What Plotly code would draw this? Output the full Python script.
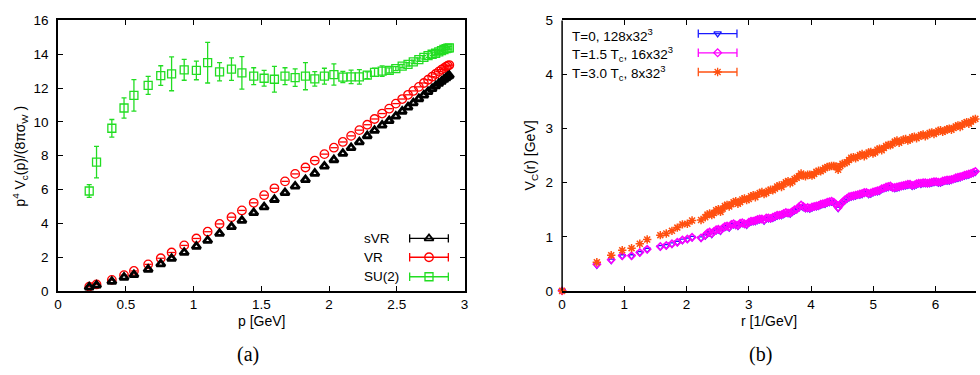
import plotly.graph_objects as go

W, H = 980, 375

# ---------------- Panel (a) data ----------------
p_gev = [0.230, 0.284, 0.397, 0.487, 0.560, 0.665, 0.758, 0.838, 0.931, 1.021,
         1.104, 1.192, 1.280, 1.357, 1.444, 1.521, 1.597, 1.675, 1.750, 1.826,
         1.895, 1.966, 2.036, 2.102, 2.163, 2.224, 2.282, 2.336, 2.392, 2.444,
         2.493, 2.540, 2.583, 2.622, 2.663, 2.700, 2.731, 2.761, 2.787, 2.810,
         2.830, 2.848, 2.864, 2.877, 2.888]
svr = [0.22, 0.33, 0.55, 0.80, 0.95, 1.27, 1.59, 1.91, 2.27, 2.63,
       2.98, 3.39, 3.79, 4.16, 4.62, 4.96, 5.40, 5.80, 6.19, 6.57,
       6.95, 7.37, 7.75, 8.13, 8.47, 8.81, 9.17, 9.49, 9.80, 10.06,
       10.33, 10.62, 10.87, 11.11, 11.36, 11.58, 11.78, 11.96, 12.12, 12.27,
       12.39, 12.51, 12.60, 12.68, 12.74]
vr = [0.25, 0.38, 0.65, 0.93, 1.18, 1.57, 1.93, 2.27, 2.69, 3.10,
      3.50, 3.96, 4.36, 4.76, 5.21, 5.66, 6.07, 6.48, 6.92, 7.30,
      7.71, 8.09, 8.47, 8.81, 9.17, 9.51, 9.83, 10.17, 10.49, 10.78,
      11.08, 11.35, 11.60, 11.83, 12.07, 12.30, 12.49, 12.67, 12.83, 12.97,
      13.09, 13.18, 13.26, 13.32, 13.36]
su2 = [5.91, 7.62, 9.62, 10.82, 11.57, 12.16, 12.74, 12.84, 13.08, 13.04,
       13.50, 12.96, 13.12, 12.90, 12.70, 12.58, 12.52, 12.70, 12.62, 12.70,
       12.54, 12.70, 12.80, 12.65, 12.66, 12.66, 12.76, 12.93, 13.00, 13.04,
       13.15, 13.30, 13.40, 13.55, 13.68, 13.82, 13.92, 14.00, 14.06, 14.14,
       14.22, 14.28, 14.33, 14.36, 14.38]
su2_err = [0.38, 0.93, 0.52, 0.60, 0.93, 0.53, 0.58, 1.00, 0.62, 0.55,
           1.20, 0.54, 0.67, 0.96, 0.50, 0.47, 0.76, 0.50, 0.52, 0.80,
           0.43, 0.47, 0.63, 0.33, 0.40, 0.43, 0.20, 0.24, 0.31, 0.15,
           0.12, 0.10, 0.10, 0.10, 0.10, 0.10, 0.10, 0.08, 0.08, 0.08,
           0.08, 0.08, 0.08, 0.08, 0.08]
a_xticks = [0, 0.5, 1, 1.5, 2, 2.5, 3]
a_xticklabels = ["0", "0.5", "1", "1.5", "2", "2.5", "3"]
a_yticks = [0, 2, 4, 6, 8, 10, 12, 14, 16]

# ---------------- Panel (b) data ----------------
r_inv = [0, 0.558, 0.789, 0.966, 1.116, 1.248, 1.367, 1.578, 1.674, 1.765,
         1.851, 1.933, 2.012, 2.088, 2.232,
         2.30, 2.37, 2.44, 2.51, 2.58, 2.65, 2.72, 2.79, 2.86, 2.93,
         3.00, 3.07, 3.14, 3.21, 3.28, 3.35, 3.42, 3.49, 3.56, 3.63,
         3.70, 3.77, 3.84, 3.91, 3.98, 4.05, 4.12, 4.19, 4.26, 4.33,
         4.40, 4.47, 4.54, 4.61, 4.68, 4.75, 4.82, 4.89, 4.96, 5.03,
         5.10, 5.17, 5.24, 5.31, 5.38, 5.45, 5.52, 5.59, 5.66, 5.73,
         5.80, 5.87, 5.94, 6.01, 6.08, 6.15, 6.22, 6.29, 6.36, 6.43,
         6.50, 6.57, 6.64]
v_t0 = [0, 0.47, 0.56, 0.64, 0.64, 0.70, 0.76, 0.81, 0.83, 0.86,
        0.89, 0.93, 0.95, 0.98, 0.97,
        1.01, 1.07, 1.09, 1.12, 1.15, 1.18, 1.21, 1.21, 1.23, 1.23,
        1.25, 1.28, 1.30, 1.32, 1.33, 1.33, 1.36, 1.39, 1.41, 1.43,
        1.45, 1.50, 1.56, 1.52, 1.51, 1.55, 1.56, 1.60, 1.62, 1.64,
        1.58, 1.58, 1.66, 1.72, 1.74, 1.77, 1.78, 1.81, 1.79, 1.83,
        1.84, 1.89, 1.91, 1.90, 1.90, 1.93, 1.94, 1.96, 1.94, 1.98,
        1.98, 1.98, 1.99, 2.01, 1.99, 2.03, 2.03, 2.06, 2.08, 2.11,
        2.13, 2.16, 2.19]
v_t15 = [0, 0.49, 0.575, 0.65, 0.65, 0.71, 0.77, 0.82, 0.84, 0.87,
         0.90, 0.94, 0.96, 0.99, 0.98,
         1.03, 1.09, 1.10, 1.14, 1.16, 1.20, 1.23, 1.22, 1.25, 1.24,
         1.27, 1.29, 1.32, 1.33, 1.35, 1.34, 1.38, 1.40, 1.43, 1.44,
         1.47, 1.51, 1.59, 1.53, 1.53, 1.56, 1.58, 1.61, 1.64, 1.66,
         1.60, 1.60, 1.68, 1.74, 1.76, 1.78, 1.80, 1.82, 1.81, 1.84,
         1.86, 1.90, 1.93, 1.91, 1.92, 1.94, 1.96, 1.97, 1.96, 1.99,
         2.00, 1.99, 2.01, 2.02, 2.01, 2.04, 2.05, 2.07, 2.10, 2.12,
         2.15, 2.17, 2.21]
v_t30 = [0, 0.53, 0.66, 0.75, 0.79, 0.87, 0.95, 1.03, 1.06, 1.11,
         1.17, 1.23, 1.24, 1.30, 1.31,
         1.36, 1.43, 1.44, 1.51, 1.52, 1.59, 1.60, 1.66, 1.64, 1.71,
         1.70, 1.77, 1.78, 1.83, 1.81, 1.87, 1.89, 1.95, 1.97, 2.03,
         2.02, 2.09, 2.17, 2.12, 2.15, 2.16, 2.22, 2.24, 2.29, 2.31,
         2.30, 2.31, 2.36, 2.42, 2.47, 2.48, 2.53, 2.52, 2.57, 2.56,
         2.63, 2.64, 2.70, 2.72, 2.78, 2.77, 2.81, 2.80, 2.85, 2.85,
         2.89, 2.88, 2.93, 2.93, 2.97, 2.96, 3.00, 3.01, 3.06, 3.07,
         3.12, 3.13, 3.18]
# intermediate lattice distances (between the rows above)
r_mid = [2.335, 2.405, 2.475, 2.545, 2.615, 2.685, 2.755, 2.825, 2.895, 2.965,
         3.035, 3.105, 3.175, 3.245, 3.315, 3.385, 3.455, 3.525, 3.595, 3.665,
         3.735, 3.805, 3.875, 3.945, 4.015, 4.085, 4.155, 4.225, 4.295, 4.365,
         4.435, 4.505, 4.575, 4.645, 4.715, 4.785, 4.855, 4.925, 4.995, 5.065,
         5.135, 5.205, 5.275, 5.345, 5.415, 5.485, 5.555, 5.625, 5.695, 5.765,
         5.835, 5.905, 5.975, 6.045, 6.115, 6.185, 6.255, 6.325, 6.395, 6.465,
         6.535, 6.605]
v_t0_mid = [1.05, 1.04, 1.11, 1.10, 1.17, 1.16, 1.22, 1.19, 1.24, 1.21,
            1.27, 1.28, 1.31, 1.29, 1.33, 1.34, 1.38, 1.39, 1.43, 1.42,
            1.48, 1.53, 1.54, 1.52, 1.53, 1.55, 1.58, 1.60, 1.63, 1.62,
            1.52, 1.62, 1.69, 1.73, 1.75, 1.77, 1.80, 1.78, 1.81, 1.83,
            1.87, 1.90, 1.92, 1.89, 1.91, 1.93, 1.95, 1.93, 1.96, 1.97,
            1.98, 1.98, 2.00, 1.99, 2.01, 2.03, 2.04, 2.07, 2.09, 2.12,
            2.14, 2.17]
v_t15_mid = [1.07, 1.06, 1.13, 1.12, 1.19, 1.18, 1.24, 1.21, 1.26, 1.23,
             1.29, 1.30, 1.33, 1.31, 1.35, 1.36, 1.40, 1.41, 1.45, 1.44,
             1.50, 1.55, 1.56, 1.54, 1.55, 1.57, 1.60, 1.62, 1.65, 1.64,
             1.54, 1.64, 1.71, 1.75, 1.77, 1.79, 1.82, 1.80, 1.83, 1.85,
             1.89, 1.92, 1.94, 1.91, 1.93, 1.95, 1.97, 1.95, 1.98, 1.99,
             2.00, 2.00, 2.02, 2.01, 2.03, 2.05, 2.06, 2.09, 2.11, 2.14,
             2.16, 2.19]
v_t30_mid = [1.41, 1.40, 1.49, 1.46, 1.57, 1.56, 1.64, 1.61, 1.69, 1.68,
             1.75, 1.73, 1.81, 1.79, 1.85, 1.86, 1.93, 1.92, 2.01, 1.99,
             2.07, 2.12, 2.13, 2.15, 2.13, 2.20, 2.21, 2.27, 2.30, 2.31,
             2.24, 2.35, 2.38, 2.46, 2.45, 2.51, 2.49, 2.56, 2.54, 2.61,
             2.60, 2.68, 2.69, 2.76, 2.74, 2.80, 2.78, 2.84, 2.82, 2.88,
             2.86, 2.92, 2.90, 2.96, 2.94, 2.99, 2.98, 3.04, 3.03, 3.10,
             3.09, 3.16]
b_xticks = [0, 1, 2, 3, 4, 5, 6]
b_yticks = [0, 1, 2, 3, 4, 5]

legend_a = ["sVR", "VR", "SU(2)"]
legend_b = ["T=0, 128x32<sup>3</sup>",
            "T=1.5 T<sub>c</sub>, 16x32<sup>3</sup>",
            "T=3.0 T<sub>c</sub>, 8x32<sup>3</sup>"]

BLACK = "#000000"
RED = "#ff0000"
GREEN = "#22dd22"
BLUE = "#1a1aff"
MAGENTA = "#ff00ff"
ORANGE = "#ff5010"
FONT = "Liberation Sans, Arial, sans-serif"
TICK_SIZE = 13.5


def px(x):
    return x / W


def py(y):
    return 1 - y / H


fig = go.Figure()

# ---- panel (a) traces ----
fig.add_trace(go.Scatter(x=p_gev, y=su2, mode="markers", xaxis="x", yaxis="y",
                         error_y=dict(type="data", array=su2_err, color=GREEN, thickness=1.3, width=2.5),
                         marker=dict(symbol="square-open", size=8, color=GREEN, line=dict(width=1.3, color=GREEN)),
                         showlegend=False, cliponaxis=False))
fig.add_trace(go.Scatter(x=p_gev, y=vr, mode="markers", xaxis="x", yaxis="y",
                         marker=dict(symbol="circle-open", size=8.5, color=RED, line=dict(width=1.3, color=RED)),
                         showlegend=False, cliponaxis=False))
fig.add_trace(go.Scatter(x=p_gev, y=vr, mode="markers", xaxis="x", yaxis="y",
                         marker=dict(symbol="line-ew", size=5, color=RED, line=dict(width=1.3, color=RED)),
                         showlegend=False, cliponaxis=False))
fig.add_trace(go.Scatter(x=p_gev, y=svr, mode="markers", xaxis="x", yaxis="y",
                         marker=dict(symbol="triangle-up-open", size=7.5, color=BLACK, line=dict(width=2.8, color=BLACK)),
                         showlegend=False, cliponaxis=False))

# ---- panel (b) traces ----
fig.add_trace(go.Scatter(x=r_inv + r_mid, y=v_t0 + v_t0_mid, mode="markers", xaxis="x2", yaxis="y2",
                         marker=dict(symbol="triangle-down-open", size=6, color=BLUE, line=dict(width=1.3, color=BLUE)),
                         showlegend=False, cliponaxis=False))
fig.add_trace(go.Scatter(x=r_inv + r_mid, y=v_t15 + v_t15_mid, mode="markers", xaxis="x2", yaxis="y2",
                         marker=dict(symbol="diamond-open", size=5.5, color=MAGENTA, line=dict(width=1.6, color=MAGENTA)),
                         showlegend=False, cliponaxis=False))
fig.add_trace(go.Scatter(x=r_inv + r_mid, y=v_t30 + v_t30_mid, mode="markers", xaxis="x2", yaxis="y2",
                         marker=dict(symbol="asterisk-open", size=7, color=ORANGE, line=dict(width=1.5, color=ORANGE)),
                         showlegend=False, cliponaxis=False))


# ---- legend keys on an overlay pixel axis ----
def add_key(x0, x1, y, color, symbol, size, lw=1.3):
    fig.add_trace(go.Scatter(x=[x0, x1], y=[y, y], mode="lines", xaxis="x3", yaxis="y3",
                             line=dict(color=color, width=1.3), showlegend=False, hoverinfo="skip"))
    fig.add_trace(go.Scatter(x=[x0, x1], y=[y, y], mode="markers", xaxis="x3", yaxis="y3",
                             marker=dict(symbol="line-ns", size=6, line=dict(color=color, width=1.3)),
                             showlegend=False, hoverinfo="skip"))
    fig.add_trace(go.Scatter(x=[(x0 + x1) / 2], y=[y], mode="markers", xaxis="x3", yaxis="y3",
                             marker=dict(symbol=symbol, size=size, color=color, line=dict(color=color, width=lw)),
                             showlegend=False, hoverinfo="skip"))


key_a_rows = [241, 260.7, 281]
add_key(409, 448, key_a_rows[0], BLACK, "triangle-up-open", 8, 1.8)
add_key(409, 448, key_a_rows[1], RED, "circle-open", 8.5)
add_key(409, 448, key_a_rows[2], GREEN, "square-open", 8)
key_b_rows = [27.7, 47.7, 67.7]
add_key(700, 739, key_b_rows[0], BLUE, "triangle-down-open", 6.5)
add_key(700, 739, key_b_rows[1], MAGENTA, "diamond-open", 6)
add_key(700, 739, key_b_rows[2], ORANGE, "asterisk-open", 7)

axis_common = dict(showgrid=False, zeroline=False, showline=True, linecolor=BLACK, linewidth=1.5,
                   ticks="inside", ticklen=5, tickwidth=1, tickcolor=BLACK,
                   tickfont=dict(family=FONT, size=TICK_SIZE, color=BLACK), mirror="allticks")

ya_dom = [py(295.7), py(14)]
fig.update_layout(
    width=W, height=H,
    margin=dict(l=0, r=0, t=0, b=0),
    paper_bgcolor="white", plot_bgcolor="rgba(0,0,0,0)",
    showlegend=False,
    xaxis=dict(domain=[px(54.5), px(464.3)], range=[0, 3], anchor="y",
               tickvals=a_xticks, ticktext=a_xticklabels, **axis_common),
    yaxis=dict(domain=ya_dom, range=[0, 16], anchor="x", tickvals=a_yticks,
               ticklabelstandoff=5, **axis_common),
    xaxis2=dict(domain=[px(562.7), 1.0], range=[0, 6.65], anchor="y2",
                tickvals=b_xticks, **axis_common),
    yaxis2=dict(domain=ya_dom, range=[0, 5], anchor="x2", tickvals=b_yticks, ticklabelstandoff=8,
                **{**axis_common, "showline": False, "mirror": "ticks"}),
    xaxis3=dict(domain=[0, 1], range=[0, W], anchor="y3", visible=False),
    yaxis3=dict(domain=[0, 1], range=[H, 0], anchor="x3", visible=False),
)

# left axis line for panel (b)
fig.add_shape(type="line", xref="paper", yref="paper", x0=px(562.7), x1=px(562.7),
              y0=ya_dom[0], y1=ya_dom[1], line=dict(color=BLACK, width=1.5))

ann = []


def text(x, y, s, size=TICK_SIZE, family=FONT, xanchor="center", angle=0):
    ann.append(dict(x=px(x), y=py(y), xref="paper", yref="paper", text=s, showarrow=False,
                    xanchor=xanchor, yanchor="middle", textangle=angle,
                    font=dict(family=family, size=size, color=BLACK)))


text(259.5, 327, "p [GeV]", size=14)
text(771, 327, "r [1/GeV]", size=14)
text(16, 155, "p<sup>4</sup> V<sub>c</sub>(p)/(8πσ<sub>W</sub> )", size=14, angle=-90)
text(531, 155, "V<sub>C</sub>(r) [GeV]", size=14, angle=-90)
text(246, 362, "(a)", size=20, family="Liberation Serif, Times New Roman, serif")
text(763, 362, "(b)", size=20, family="Liberation Serif, Times New Roman, serif")
for lab, yy in zip(legend_a, key_a_rows):
    text(361, yy, lab, xanchor="left")
for lab, yy in zip(legend_b, key_b_rows):
    text(571, yy + 1, lab, xanchor="left")
fig.update_layout(annotations=ann)

fig.write_html("out.html", config={"displayModeBar": False},
               post_script="document.body.style.margin='0';document.body.style.overflow='hidden';")
